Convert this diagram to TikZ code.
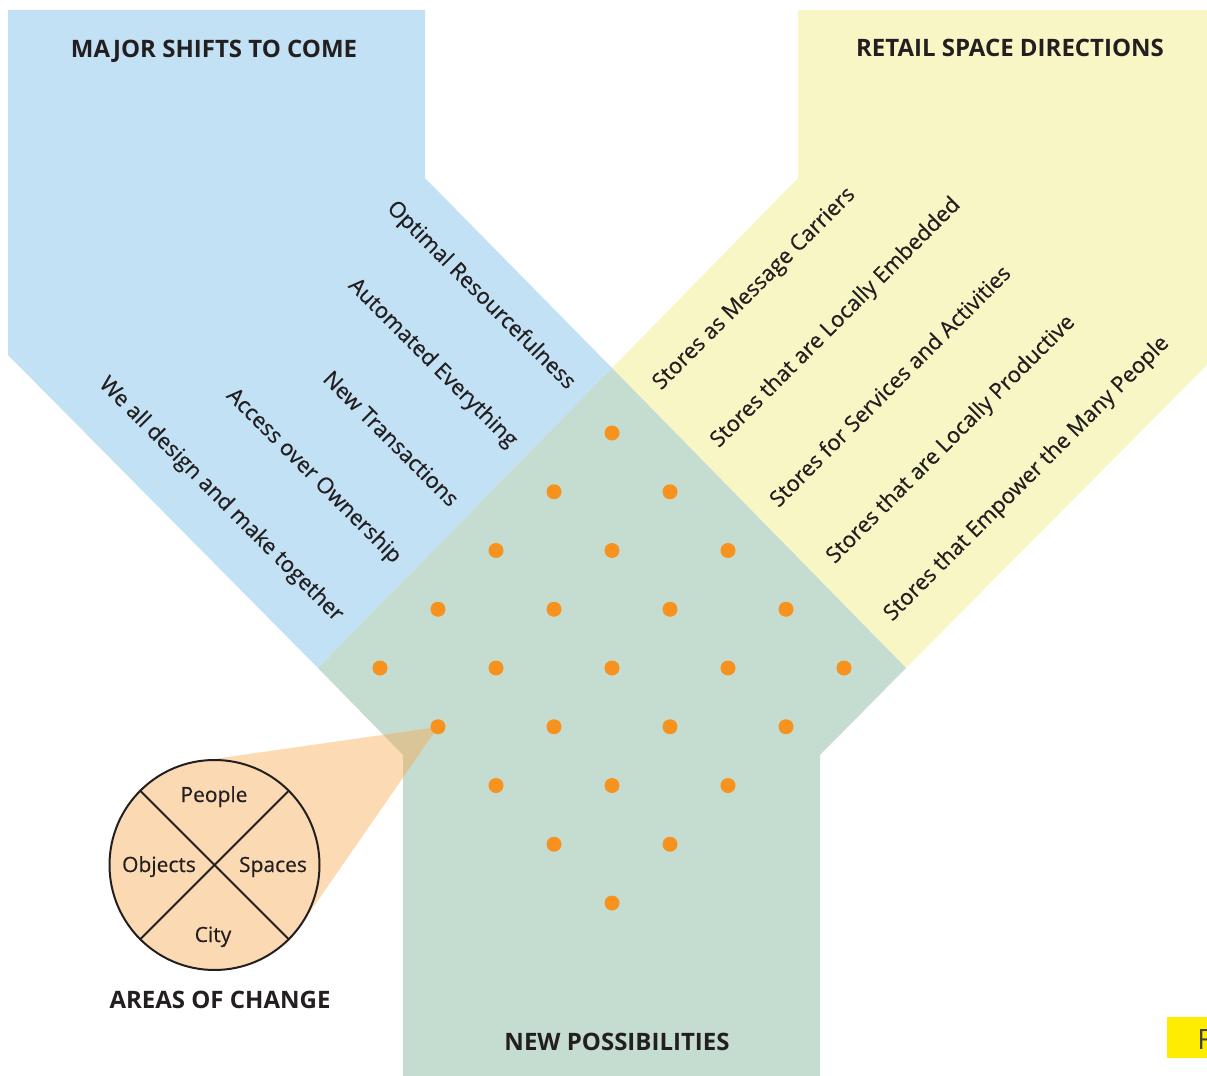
\documentclass[tikz,border=0pt]{standalone}
\usepackage{fontspec}
\setmainfont{Open Sans}
\newfontfamily\lblfont[FakeBold=0.45]{Open Sans}
\definecolor{bluec}{HTML}{C2E1F4}
\definecolor{yellowc}{HTML}{F9F6C6}
\definecolor{greenc}{HTML}{C5DDD1}
\definecolor{dotc}{HTML}{F7921E}
\definecolor{wedgec}{HTML}{F7A64A}
\definecolor{circc}{HTML}{FBD9B2}
\definecolor{txt}{HTML}{231F20}
\definecolor{yboxc}{HTML}{FFED00}
\begin{document}
\begin{tikzpicture}[x=0.5pt,y=-0.5pt,
  lbl/.style={font=\lblfont\fontsize{11}{13}\selectfont, text=txt, inner sep=0pt},
  clbl/.style={font=\lblfont\fontsize{10.5}{12}\selectfont, text=txt, inner sep=0pt},
  ttl/.style={font=\bfseries\fontsize{12}{14}\selectfont, text=txt, inner sep=0pt},
  dotn/.style={circle, fill=dotc, minimum size=7.5pt, inner sep=0pt},
  ring/.style={circle, draw=txt, line width=1pt, fill=circc, minimum size=105pt, inner sep=0pt}]
\useasboundingbox (0,0) rectangle (1207,1076);
\clip (0,0) rectangle (1207,1076);
% regions
\fill[bluec] (8,10) -- (425,10) -- (425,178) -- (612,368) -- (318,668) -- (8,355) -- cycle;
\fill[yellowc] (798,10) -- (1210,10) -- (1210,362) -- (906,668) -- (612,368) -- (798,178) -- cycle;
\fill[greenc] (612,368) -- (906,668) -- (820,755) -- (820,1080) -- (403,1080) -- (403,755) -- (318,668) -- cycle;
% titles
\node[ttl, anchor=base] (t1) at (214,57) {MAJOR SHIFTS TO COME};
\node[ttl, anchor=base] (t2) at (1010,56) {RETAIL SPACE DIRECTIONS};
\node[ttl, anchor=base] (t3) at (617,1050) {NEW POSSIBILITIES};
\node[ttl, anchor=base] (t4) at (220,1008) {AREAS OF CHANGE};
% left labels
\node[lbl, rotate=-45, anchor=east] (l1) at (571.5,386.5) {Optimal Resourcefulness};
\node[lbl, rotate=-45, anchor=east] (l2) at (513.5,444.5) {Automated Everything};
\node[lbl, rotate=-45, anchor=east] (l3) at (455.5,502.5) {New Transactions};
\node[lbl, rotate=-45, anchor=east] (l4) at (397.5,560.5) {Access over Ownership};
\node[lbl, rotate=-45, anchor=east] (l5) at (339.5,618.5) {We all design and make together};
% right labels
\node[lbl, rotate=45, anchor=west] (r1) at (657,387) {Stores as Message Carriers};
\node[lbl, rotate=45, anchor=west] (r2) at (714.5,444.5) {Stores that are Locally Embedded};
\node[lbl, rotate=45, anchor=west] (r3) at (772.5,502.5) {Stores for Services and Activities};
\node[lbl, rotate=45, anchor=west] (r4) at (830.5,560.5) {Stores that are Locally Productive};
\node[lbl, rotate=45, anchor=west] (r5) at (888,618) {Stores that Empower the Many People};
% wedge
\coordinate (apex) at (438,727);
\fill[wedgec, opacity=0.42] (apex) -- (200,761) -- (214.5,865) -- (301,925) -- cycle;
% circle
\node[ring] (ring) at (214.5,865) {};
\draw[txt, line width=1pt] (ring.45) -- (ring.225);
\draw[txt, line width=1pt] (ring.135) -- (ring.-45);
\node[clbl, anchor=base] (c1) at (214,802) {People};
\node[clbl, anchor=base] (c2) at (159,872) {Objects};
\node[clbl, anchor=base] (c3) at (273,872) {Spaces};
\node[clbl, anchor=base] (c4) at (213,942) {City};
% dots
\foreach \i in {-2,...,2}{
  \foreach \j in {-2,...,2}{
    \node[dotn] (d\i\j) at ({612+58*(\i-\j)},{668+58.75*(\i+\j)}) {};
  }
}
% corner box
\fill[yboxc] (1167,1017) rectangle (1215,1058);
\node[anchor=base west, inner sep=0pt, text=txt!85, font=\fontsize{14}{16}\selectfont] (fx) at (1197,1049) {F};
\end{tikzpicture}
\end{document}
